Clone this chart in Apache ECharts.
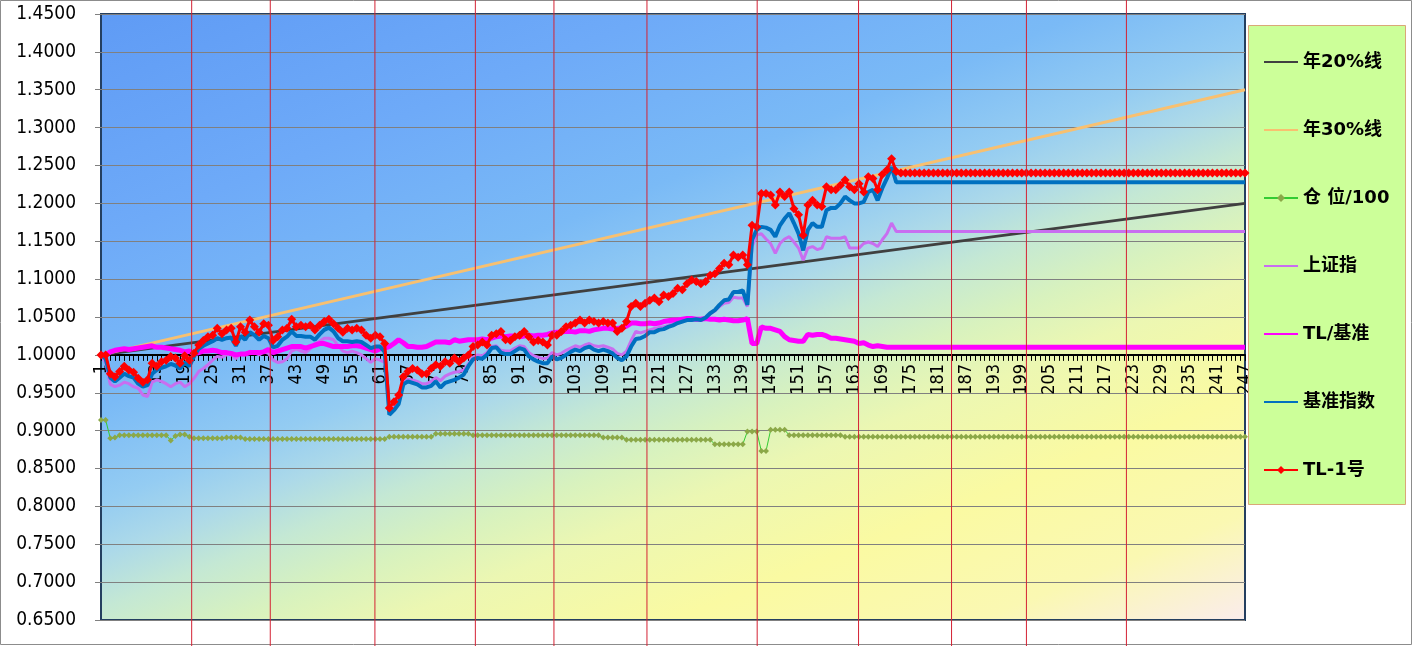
<!DOCTYPE html>
<html><head><meta charset="utf-8">
<script src="https://cdn.jsdelivr.net/npm/echarts@6/dist/echarts.min.js"></script>
<style>html,body{margin:0;padding:0;background:#fff}#c{width:1413px;height:646px}</style>
</head><body><div id="c"></div>
<script>
// ---------- DATA ----------
const categories = [];
for (let i = 1; i <= 247; i++) categories.push(String(i));

const seriesNames = ['年20%线', '年30%线', '仓 位/100', '上证指', 'TL/基准', '基准指数', 'TL-1号'];

// straight reference lines: [category, value] end points
const line20 = [['1', 1.000], ['247', 1.200]];
const line30 = [['1', 1.000], ['247', 1.350]];

const position100 = [
  0.914,0.914,0.890,0.891,0.894,0.894,0.894,0.894,0.894,0.894,
  0.894,0.894,0.894,0.894,0.894,0.887,0.893,0.895,0.895,0.892,
  0.890,0.890,0.890,0.890,0.890,0.890,0.890,0.891,0.891,0.891,
  0.891,0.889,0.889,0.889,0.889,0.889,0.889,0.889,0.889,0.889,
  0.889,0.889,0.889,0.889,0.889,0.889,0.889,0.889,0.889,0.889,
  0.889,0.889,0.889,0.889,0.889,0.889,0.889,0.889,0.889,0.889,
  0.889,0.889,0.892,0.892,0.892,0.892,0.892,0.892,0.892,0.892,
  0.892,0.892,0.896,0.896,0.896,0.896,0.896,0.896,0.896,0.896,
  0.894,0.894,0.894,0.894,0.894,0.894,0.894,0.894,0.894,0.894,
  0.894,0.894,0.894,0.894,0.894,0.894,0.894,0.894,0.894,0.894,
  0.894,0.894,0.894,0.894,0.894,0.894,0.894,0.894,0.891,0.891,
  0.891,0.891,0.891,0.888,0.888,0.888,0.888,0.888,0.888,0.888,
  0.888,0.888,0.888,0.888,0.888,0.888,0.888,0.888,0.888,0.888,
  0.888,0.888,0.882,0.882,0.882,0.882,0.882,0.882,0.882,0.899,
  0.899,0.899,0.873,0.873,0.901,0.901,0.901,0.901,0.894,0.894,
  0.894,0.894,0.894,0.894,0.894,0.894,0.894,0.894,0.894,0.894,
  0.892,0.892,0.892,0.892,0.892,0.892,0.892,0.892,0.892,0.892,
  0.892,0.892,0.892,0.892,0.892,0.892,0.892,0.892,0.892,0.892,
  0.892,0.892,0.892,0.892,0.892,0.892,0.892,0.892,0.892,0.892,
  0.892,0.892,0.892,0.892,0.892,0.892,0.892,0.892,0.892,0.892,
  0.892,0.892,0.892,0.892,0.892,0.892,0.892,0.892,0.892,0.892,
  0.892,0.892,0.892,0.892,0.892,0.892,0.892,0.892,0.892,0.892,
  0.892,0.892,0.892,0.892,0.892,0.892,0.892,0.892,0.892,0.892,
  0.892,0.892,0.892,0.892,0.892,0.892,0.892,0.892,0.892,0.892,
  0.892,0.892,0.892,0.892,0.892,0.892,0.892
];

const shIndex = [
  1.000,0.990,0.961,0.958,0.960,0.964,0.962,0.958,0.956,0.947,
  0.945,0.964,0.967,0.965,0.962,0.958,0.962,0.964,0.958,0.962,
  0.969,0.978,0.982,0.987,0.993,0.998,0.997,1.000,1.001,0.995,
  1.002,1.000,1.005,1.003,1.000,1.004,1.002,0.993,0.990,0.991,
  0.995,1.005,1.008,1.005,1.003,1.008,1.015,1.018,1.022,1.022,
  1.020,1.012,1.005,1.003,1.005,1.003,1.000,0.995,0.990,0.995,
  0.993,0.990,0.925,0.930,0.940,0.965,0.968,0.967,0.965,0.962,
  0.962,0.965,0.970,0.966,0.972,0.975,0.977,0.978,0.980,0.988,
  0.997,1.000,0.999,1.003,1.011,1.012,1.006,1.005,1.005,1.009,
  1.012,1.011,1.003,0.999,0.997,0.995,0.996,1.003,1.000,1.002,
  1.006,1.009,1.012,1.010,1.013,1.015,1.012,1.011,1.012,1.010,
  1.008,1.002,1.000,1.005,1.019,1.031,1.029,1.031,1.033,1.035,
  1.036,1.037,1.039,1.042,1.043,1.045,1.046,1.046,1.047,1.046,
  1.049,1.054,1.058,1.064,1.068,1.069,1.076,1.075,1.075,1.064,
  1.143,1.158,1.160,1.153,1.147,1.134,1.147,1.153,1.156,1.149,
  1.141,1.125,1.141,1.143,1.139,1.141,1.156,1.154,1.154,1.154,
  1.156,1.141,1.141,1.141,1.147,1.149,1.147,1.143,1.152,1.160,
  1.174,1.163,1.163,1.163,1.163,1.163,1.163,1.163,1.163,1.163,
  1.163,1.163,1.163,1.163,1.163,1.163,1.163,1.163,1.163,1.163,
  1.163,1.163,1.163,1.163,1.163,1.163,1.163,1.163,1.163,1.163,
  1.163,1.163,1.163,1.163,1.163,1.163,1.163,1.163,1.163,1.163,
  1.163,1.163,1.163,1.163,1.163,1.163,1.163,1.163,1.163,1.163,
  1.163,1.163,1.163,1.163,1.163,1.163,1.163,1.163,1.163,1.163,
  1.163,1.163,1.163,1.163,1.163,1.163,1.163,1.163,1.163,1.163,
  1.163,1.163,1.163,1.163,1.163,1.163,1.163
];

const tlRatio = [
  1.000,1.000,1.004,1.006,1.007,1.008,1.007,1.008,1.009,1.010,
  1.011,1.012,1.010,1.010,1.009,1.008,1.007,1.006,1.004,1.005,
  1.001,1.003,1.005,1.005,1.006,1.005,1.003,1.003,1.002,1.000,
  1.001,1.001,1.003,1.003,1.003,1.004,1.007,1.003,1.005,1.007,
  1.009,1.011,1.011,1.011,1.009,1.011,1.013,1.015,1.015,1.013,
  1.011,1.011,1.011,1.011,1.012,1.012,1.011,1.009,1.007,1.005,
  1.008,1.009,1.011,1.015,1.020,1.016,1.011,1.011,1.010,1.010,
  1.011,1.014,1.017,1.017,1.017,1.016,1.020,1.018,1.019,1.020,
  1.020,1.020,1.021,1.020,1.022,1.024,1.025,1.024,1.025,1.025,
  1.024,1.025,1.026,1.025,1.026,1.026,1.027,1.029,1.030,1.030,
  1.031,1.031,1.030,1.032,1.032,1.031,1.033,1.034,1.035,1.035,
  1.034,1.035,1.036,1.038,1.042,1.042,1.041,1.041,1.042,1.041,
  1.042,1.044,1.045,1.046,1.046,1.047,1.048,1.048,1.047,1.047,
  1.048,1.047,1.047,1.046,1.047,1.046,1.045,1.045,1.046,1.048,
  1.015,1.015,1.037,1.035,1.035,1.033,1.031,1.024,1.020,1.019,
  1.018,1.018,1.027,1.026,1.027,1.027,1.025,1.022,1.022,1.021,
  1.020,1.019,1.018,1.015,1.016,1.013,1.011,1.012,1.011,1.010,
  1.010,1.010,1.010,1.010,1.010,1.010,1.010,1.010,1.010,1.010,
  1.010,1.010,1.010,1.010,1.010,1.010,1.010,1.010,1.010,1.010,
  1.010,1.010,1.010,1.010,1.010,1.010,1.010,1.010,1.010,1.010,
  1.010,1.010,1.010,1.010,1.010,1.010,1.010,1.010,1.010,1.010,
  1.010,1.010,1.010,1.010,1.010,1.010,1.010,1.010,1.010,1.010,
  1.010,1.010,1.010,1.010,1.010,1.010,1.010,1.010,1.010,1.010,
  1.010,1.010,1.010,1.010,1.010,1.010,1.010,1.010,1.010,1.010,
  1.010,1.010,1.010,1.010,1.010,1.010,1.010
];

const benchmark = [
  1.000,0.995,0.970,0.965,0.970,0.975,0.972,0.970,0.962,0.958,
  0.960,0.975,0.980,0.983,0.985,0.988,0.986,0.982,0.990,0.985,
  0.998,1.008,1.012,1.015,1.018,1.022,1.020,1.022,1.023,1.012,
  1.025,1.020,1.030,1.026,1.020,1.025,1.022,1.010,1.012,1.020,
  1.024,1.031,1.025,1.025,1.024,1.024,1.020,1.027,1.033,1.036,
  1.031,1.022,1.018,1.018,1.017,1.018,1.017,1.013,1.009,1.011,
  1.011,1.004,0.921,0.927,0.935,0.961,0.965,0.963,0.961,0.957,
  0.957,0.959,0.965,0.957,0.963,0.965,0.967,0.970,0.974,0.985,
  0.994,0.996,0.995,1.000,1.009,1.010,1.003,1.001,1.001,1.005,
  1.009,1.007,0.998,0.994,0.991,0.989,0.989,0.998,0.994,0.996,
  1.000,1.004,1.007,1.005,1.009,1.011,1.007,1.005,1.007,1.005,
  1.002,0.996,0.993,0.998,1.011,1.021,1.022,1.025,1.030,1.030,
  1.033,1.034,1.037,1.039,1.042,1.044,1.046,1.046,1.047,1.046,
  1.049,1.055,1.059,1.066,1.072,1.073,1.083,1.083,1.085,1.066,
  1.152,1.165,1.169,1.168,1.165,1.156,1.171,1.180,1.187,1.174,
  1.160,1.138,1.165,1.174,1.169,1.169,1.191,1.194,1.194,1.200,
  1.209,1.204,1.200,1.200,1.202,1.215,1.218,1.204,1.220,1.233,
  1.248,1.228,1.228,1.228,1.228,1.228,1.228,1.228,1.228,1.228,
  1.228,1.228,1.228,1.228,1.228,1.228,1.228,1.228,1.228,1.228,
  1.228,1.228,1.228,1.228,1.228,1.228,1.228,1.228,1.228,1.228,
  1.228,1.228,1.228,1.228,1.228,1.228,1.228,1.228,1.228,1.228,
  1.228,1.228,1.228,1.228,1.228,1.228,1.228,1.228,1.228,1.228,
  1.228,1.228,1.228,1.228,1.228,1.228,1.228,1.228,1.228,1.228,
  1.228,1.228,1.228,1.228,1.228,1.228,1.228,1.228,1.228,1.228,
  1.228,1.228,1.228,1.228,1.228,1.228,1.228
];

const tl1 = [
  1.000,1.000,0.975,0.971,0.978,0.985,0.980,0.977,0.969,0.964,
  0.967,0.989,0.985,0.991,0.993,0.998,0.996,0.989,0.999,0.993,
  1.002,1.013,1.019,1.024,1.026,1.035,1.028,1.033,1.035,1.017,
  1.037,1.030,1.046,1.037,1.030,1.041,1.039,1.019,1.024,1.033,
  1.035,1.047,1.037,1.039,1.037,1.039,1.033,1.039,1.044,1.047,
  1.041,1.035,1.030,1.035,1.033,1.035,1.033,1.026,1.022,1.026,
  1.024,1.015,0.930,0.938,0.947,0.971,0.978,0.982,0.980,0.975,
  0.975,0.982,0.987,0.985,0.991,0.989,0.996,0.991,0.996,1.000,
  1.011,1.013,1.017,1.013,1.026,1.028,1.031,1.020,1.019,1.024,
  1.026,1.031,1.024,1.017,1.019,1.017,1.013,1.026,1.026,1.031,
  1.037,1.039,1.042,1.046,1.042,1.046,1.044,1.042,1.044,1.042,
  1.042,1.031,1.035,1.044,1.064,1.068,1.064,1.068,1.072,1.075,
  1.070,1.079,1.077,1.081,1.088,1.086,1.094,1.099,1.097,1.094,
  1.097,1.105,1.107,1.114,1.121,1.119,1.132,1.129,1.132,1.119,
  1.171,1.169,1.213,1.213,1.211,1.198,1.215,1.209,1.215,1.193,
  1.185,1.158,1.198,1.204,1.198,1.196,1.222,1.218,1.218,1.224,
  1.231,1.222,1.218,1.226,1.215,1.235,1.233,1.218,1.238,1.244,
  1.259,1.242,1.240,1.240,1.240,1.240,1.240,1.240,1.240,1.240,
  1.240,1.240,1.240,1.240,1.240,1.240,1.240,1.240,1.240,1.240,
  1.240,1.240,1.240,1.240,1.240,1.240,1.240,1.240,1.240,1.240,
  1.240,1.240,1.240,1.240,1.240,1.240,1.240,1.240,1.240,1.240,
  1.240,1.240,1.240,1.240,1.240,1.240,1.240,1.240,1.240,1.240,
  1.240,1.240,1.240,1.240,1.240,1.240,1.240,1.240,1.240,1.240,
  1.240,1.240,1.240,1.240,1.240,1.240,1.240,1.240,1.240,1.240,
  1.240,1.240,1.240,1.240,1.240,1.240,1.240
];

// red vertical marker lines (position on the 1..247 category scale)
const monthMarks = [20.5, 37.4, 59.9, 81.5, 98.4, 118.4, 142.1, 163.9, 183.9, 200.0, 221.5];

// ---------- CHART ----------
const chart = echarts.init(document.getElementById('c'), null, { renderer: 'canvas' });
const NUMFONT = '"DejaVu Sans Condensed","Liberation Sans",sans-serif';
const LEGFONT = '"DejaVu Sans","Noto Sans CJK SC",sans-serif';

const plotFill = new echarts.graphic.LinearGradient(0, 0, 0.32, 1.51, [
  { offset: 0.00, color: 'rgb(95,155,245)' },
  { offset: 0.21, color: 'rgb(110,170,248)' },
  { offset: 0.37, color: 'rgb(122,186,246)' },
  { offset: 0.46, color: 'rgb(148,204,242)' },
  { offset: 0.51, color: 'rgb(172,217,233)' },
  { offset: 0.56, color: 'rgb(196,232,212)' },
  { offset: 0.62, color: 'rgb(216,242,190)' },
  { offset: 0.68, color: 'rgb(236,247,178)' },
  { offset: 0.785, color: 'rgb(250,250,162)' },
  { offset: 0.90, color: 'rgb(250,248,178)' },
  { offset: 1.00, color: 'rgb(250,236,236)' }
]);

function lineSeries(name, data, color, width, extra) {
  return Object.assign({
    name, type: 'line', data,
    symbol: 'none', showSymbol: false,
    lineStyle: { color, width },
    itemStyle: { color },
    emphasis: { disabled: true },
    silent: true
  }, extra || {});
}

const noMarker = { color: 'rgba(0,0,0,0)', opacity: 0, borderWidth: 0 };
const legendData = [
  { name: seriesNames[0], itemStyle: noMarker },
  { name: seriesNames[1], itemStyle: noMarker },
  { name: seriesNames[2] },
  { name: seriesNames[3], itemStyle: noMarker },
  { name: seriesNames[4], itemStyle: noMarker },
  { name: seriesNames[5], itemStyle: noMarker },
  { name: seriesNames[6] }
];

const staticGraphics = [
  { type: 'rect', id: 'frame', shape: { x: 0.5, y: 0.5, width: 1411, height: 644 },
    style: { fill: 'none', stroke: '#8c8c8c', lineWidth: 1 }, z: 0, silent: true },
  { type: 'rect', id: 'legbox', shape: { x: 1248.5, y: 25.5, width: 157, height: 479 },
    style: { fill: '#CCFF99', stroke: '#D9A877', lineWidth: 1 }, z: 1, silent: true }
];

const option = {
  animation: false,
  backgroundColor: '#ffffff',
  grid: {
    left: 101, right: 168, top: 14, bottom: 26,
    show: true, backgroundColor: plotFill,
    borderColor: '#243F60', borderWidth: 2,
    containLabel: false, outerBoundsMode: 'none'
  },
  xAxis: [{
    type: 'category', data: categories, boundaryGap: false, position: 'bottom',
    axisLine: { onZero: false, lineStyle: { color: '#000', width: 2 } },
    axisTick: { show: true, interval: 0, length: 6, lineStyle: { color: '#000', width: 1 } },
    axisLabel: { interval: 5, rotate: 90, fontSize: 18, color: '#000', fontFamily: NUMFONT, margin: 9 },
    splitLine: { show: false }
  }, {
    type: 'value', min: 1, max: 247, show: false
  }],
  yAxis: {
    type: 'value', min: 0.65, max: 1.45, interval: 0.05,
    axisLine: { show: false },
    axisTick: { show: true, length: 6, lineStyle: { color: '#808080' } },
    axisLabel: { formatter: v => v.toFixed(4), fontSize: 19, color: '#000', fontFamily: NUMFONT, margin: 25 },
    splitLine: { lineStyle: { color: '#808080', width: 1 } }
  },
  legend: {
    orient: 'vertical', left: 1263, top: 52, padding: 0,
    itemWidth: 34, itemHeight: 10, itemGap: 48, selectedMode: false,
    textStyle: { fontSize: 18, fontWeight: 'bold', color: '#000', fontFamily: LEGFONT, lineHeight: 20 },
    data: legendData
  },
  graphic: staticGraphics,
  series: [
    lineSeries(seriesNames[0], line20, '#404040', 3),
    lineSeries(seriesNames[1], line30, '#F8C070', 3),
    lineSeries(seriesNames[2], position100, '#33CC33', 1, {
      symbol: 'diamond', showSymbol: true, showAllSymbol: true, symbolSize: 6,
      itemStyle: { color: '#8CA848' }
    }),
    lineSeries(seriesNames[3], shIndex, '#C86EF0', 3),
    lineSeries(seriesNames[4], tlRatio, '#FF00FF', 5),
    lineSeries(seriesNames[5], benchmark, '#0070C0', 4),
    lineSeries(seriesNames[6], tl1, '#FF0000', 3, {
      symbol: 'diamond', showSymbol: true, showAllSymbol: true, symbolSize: 9,
      itemStyle: { color: '#FF0000' }
    })
  ]
};

chart.setOption(option);

// place the category axis so it crosses the value axis at 1.0000, and draw marker lines
const yOne = chart.convertToPixel({ yAxisIndex: 0 }, 1.0);
const yMin = chart.convertToPixel({ yAxisIndex: 0 }, 0.65);
const H = chart.getHeight();
const markGraphics = monthMarks.map((m, k) => {
  const px = chart.convertToPixel({ xAxisIndex: 1 }, m);
  return { type: 'line', id: 'mk' + k, shape: { x1: px, y1: 0, x2: px, y2: H },
    style: { stroke: '#D42234', lineWidth: 1 }, z: 100, silent: true };
});
chart.setOption({
  xAxis: [{ offset: yOne - yMin }, {}],
  graphic: staticGraphics.concat(markGraphics)
});
</script>
</body></html>
